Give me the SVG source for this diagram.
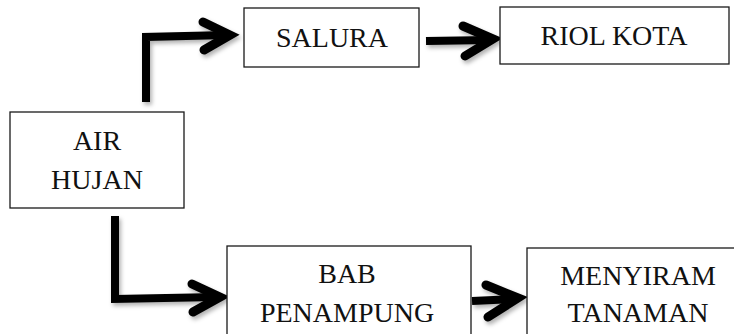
<svg xmlns="http://www.w3.org/2000/svg" width="734" height="334" viewBox="0 0 734 334">
<style>
.box{fill:#fff;stroke:#1a1a1a;stroke-width:1.3}
.t{font-size:28px;fill:#111;text-anchor:middle}
.shaft{fill:none;stroke:#000;stroke-width:8;stroke-linejoin:miter;stroke-linecap:butt}
.head{fill:none;stroke:#000;stroke-width:9;stroke-linejoin:miter;stroke-linecap:round}
</style>
<defs>
<filter id="sh" x="-20%" y="-20%" width="140%" height="140%">
<feDropShadow dx="2" dy="3" stdDeviation="2" flood-color="#000" flood-opacity="0.3"/>
</filter>
</defs>
<rect width="734" height="334" fill="#fff"/>
<g id="connectors" filter="url(#sh)">
<g id="c1"><path class="shaft" d="M146,102 L146,37 L227,35"/><polyline class="head" points="203,22 230,35 204,50"/></g>
<g id="c2"><path class="shaft" d="M426,41 L490,40"/><polyline class="head" points="463,26 493,39 465,56"/></g>
<g id="c3"><path class="shaft" d="M115,216 L115,299 L217,297"/><polyline class="head" points="192,284 220,297 193,312"/></g>
<g id="c4"><path class="shaft" d="M472,301 L515,299"/><polyline class="head" points="486,285 518,298 488,317"/></g>
</g>
<g font-family="Liberation Serif, DejaVu Serif, serif">
<g id="air-hujan"><rect class="box" x="10" y="112" width="174" height="96"/><text class="t" x="97" y="150">AIR</text><text class="t" x="97" y="189">HUJAN</text></g>
<g id="salura"><rect class="box" x="244" y="8" width="175" height="59"/><text class="t" x="332" y="47">SALURA</text></g>
<g id="riol-kota"><rect class="box" x="500" y="7" width="229" height="57"/><text class="t" x="614" y="45">RIOL KOTA</text></g>
<g id="bab-penampung"><rect class="box" x="227" y="246" width="244" height="100"/><text class="t" x="347" y="283">BAB</text><text class="t" x="347" y="322">PENAMPUNG</text></g>
<g id="menyiram-tanaman"><rect class="box" x="527" y="248" width="220" height="100"/><text class="t" x="638" y="285">MENYIRAM</text><text class="t" x="638" y="322">TANAMAN</text></g>
</g>
</svg>
